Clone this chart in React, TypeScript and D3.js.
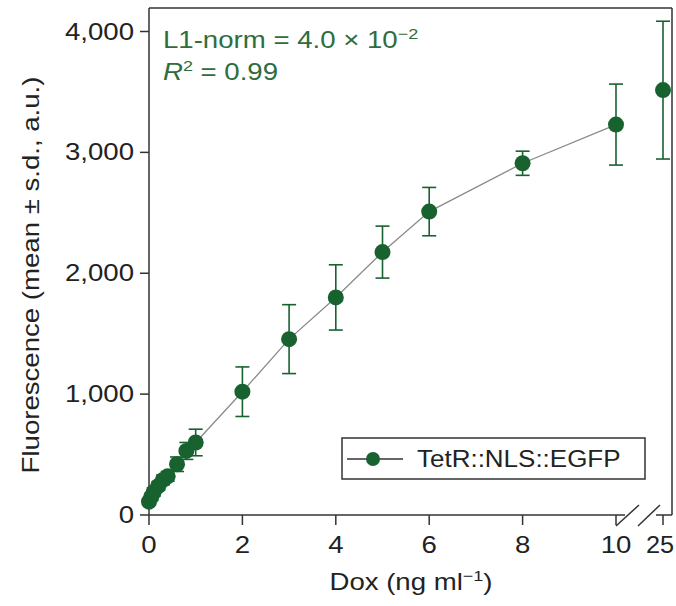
import React from "react";
import * as d3 from "d3";

const dose = [0, 0.05, 0.1, 0.2, 0.3, 0.4, 0.6, 0.8, 1, 2, 3, 4, 5, 6, 8, 10, 25];
const meanF = [110, 150, 190, 240, 290, 320, 420, 530, 600, 1020, 1455, 1800, 2175, 2510, 2910, 3230, 3515];
const sdF = [25, 30, 35, 35, 40, 40, 60, 70, 110, 205, 285, 270, 215, 200, 100, 335, 570];
const xTicks = [0, 2, 4, 6, 8, 10, 25];
const yTicks = [0, 1000, 2000, 3000, 4000];
const seriesName = "TetR::NLS::EGFP";

const W = 676;
const H = 606;
const L = 149, R = 672, T = 8, B = 515;
const GREEN = "#17622f";
const TEXTGREEN = "#2e6d3d";
const AX = "#333";
const FONT = "'Liberation Sans', Arial, Helvetica, sans-serif";
const FS = 23;
const SX = 1.2;

export default function App() {
  const x = d3.scaleLinear().domain([0, 10, 25]).range([L, 616, 663]);
  const y = d3.scaleLinear().domain([0, 4000]).range([B, 31.5]);
  const pts = dose.map((d, i) => ({ d, m: meanF[i], s: sdF[i] }));
  const lineGen = d3
    .line<{ d: number; m: number }>()
    .x((p) => x(p.d))
    .y((p) => y(p.m));
  const linePts = pts.filter((p) => p.d <= 10);
  const fmt = d3.format(",");
  const x10 = x(10);

  return (
    <svg
      width={W}
      height={H}
      style={{ position: "absolute", left: 0, top: 0, background: "#fff" }}
      fontFamily={FONT}
    >
      <rect x={0} y={0} width={W} height={H} fill="#fff" />
      {/* frame */}
      <g stroke={AX} strokeWidth={1.5} fill="none">
        <line x1={L} y1={T} x2={L} y2={B} />
        <line x1={L} y1={T} x2={R} y2={T} />
        <line x1={R} y1={T} x2={R} y2={B} />
        <line x1={L} y1={B} x2={x10 + 9} y2={B} />
        <line x1={x10 + 40} y1={B} x2={R} y2={B} />
        {/* break marks */}
        <line x1={x10} y1={526} x2={x10 + 23} y2={505} />
        <line x1={x10 + 22} y1={526} x2={x10 + 44} y2={505} />
      </g>
      {/* y ticks */}
      <g>
        {yTicks.map((t) => (
          <g key={t}>
            <line x1={L - 9} x2={L} y1={y(t)} y2={y(t)} stroke={AX} strokeWidth={1.5} />
            <text
              transform={`translate(${134},${y(t) + 8}) scale(${SX},1)`}
              textAnchor="end"
              fontSize={FS}
              fill="#222"
            >
              {fmt(t)}
            </text>
          </g>
        ))}
      </g>
      {/* x ticks */}
      <g>
        {xTicks.map((t) => {
          const last = t === 25;
          return (
            <g key={t}>
              <line x1={x(t)} x2={x(t)} y1={B} y2={B + 10} stroke={AX} strokeWidth={1.5} />
              <text
                transform={`translate(${last ? 674 : x(t)},${553}) scale(${last ? 1.1 : SX},1)`}
                textAnchor={last ? "end" : "middle"}
                fontSize={FS}
                fill="#222"
              >
                {t}
              </text>
            </g>
          );
        })}
      </g>
      {/* axis titles */}
      <text
        transform={`translate(${411},${590}) scale(${SX},1)`}
        textAnchor="middle"
        fontSize={FS}
        fill="#222"
      >
        Dox (ng ml
        <tspan fontSize={15} dy={-9}>−1</tspan>
        <tspan dy={9}>)</tspan>
      </text>
      <text
        transform={`translate(${39},${275}) rotate(-90) scale(${SX},1)`}
        textAnchor="middle"
        fontSize={FS}
        fill="#222"
      >
        Fluorescence (mean ± s.d., a.u.)
      </text>
      {/* fit line */}
      <path d={lineGen(linePts) || ""} fill="none" stroke="#8a8a8a" strokeWidth={1.3} />
      {/* error bars */}
      <g stroke={GREEN} strokeWidth={1.6}>
        {pts.map((p, i) => (
          <g key={i}>
            <line x1={x(p.d)} x2={x(p.d)} y1={y(p.m - p.s)} y2={y(p.m + p.s)} />
            <line x1={x(p.d) - 7} x2={x(p.d) + 7} y1={y(p.m - p.s)} y2={y(p.m - p.s)} />
            <line x1={x(p.d) - 7} x2={x(p.d) + 7} y1={y(p.m + p.s)} y2={y(p.m + p.s)} />
          </g>
        ))}
      </g>
      {/* markers */}
      <g fill={GREEN}>
        {pts.map((p, i) => (
          <circle key={i} cx={x(p.d)} cy={y(p.m)} r={8} />
        ))}
      </g>
      {/* annotation */}
      <text
        transform={`translate(${163},${48}) scale(${SX},1)`}
        fontSize={FS}
        fill={TEXTGREEN}
      >
        L1-norm = 4.0 × 10
        <tspan fontSize={15} dy={-9}>−2</tspan>
      </text>
      <text
        transform={`translate(${163},${80}) scale(${SX},1)`}
        fontSize={FS}
        fill={TEXTGREEN}
      >
        <tspan fontStyle="italic">R</tspan>
        <tspan fontSize={15} dy={-9}>2</tspan>
        <tspan dy={9}> = 0.99</tspan>
      </text>
      {/* legend */}
      <g>
        <rect x={342} y={438} width={303} height={41} fill="#fff" stroke={AX} strokeWidth={1.5} />
        <line x1={347} x2={403} y1={459} y2={459} stroke="#333" strokeWidth={1.5} />
        <circle cx={373} cy={459} r={7} fill={GREEN} />
        <text
          transform={`translate(${417},${467}) scale(${1.13},1)`}
          fontSize={FS}
          fill="#222"
        >
          {seriesName}
        </text>
      </g>
    </svg>
  );
}
